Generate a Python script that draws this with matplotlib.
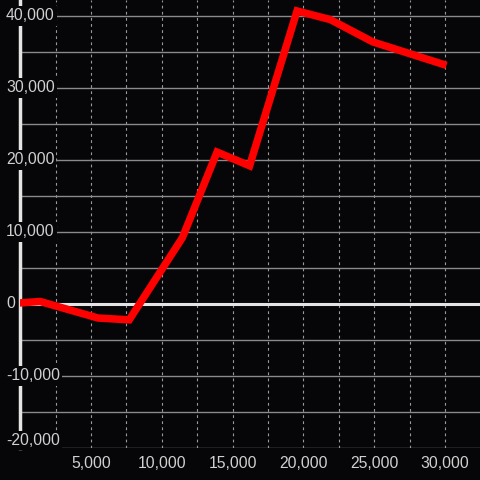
import matplotlib
matplotlib.use("Agg")
import matplotlib.pyplot as plt
from matplotlib.ticker import FuncFormatter, MultipleLocator

# datos
xs = [0, 1400, 5500, 7700, 11450, 13900, 16200, 19550, 21900, 24900, 29850]
ys = [150, 350, -1950, -2200, 9200, 21100, 19200, 40700, 39500, 36400, 33300]

x_ticks = [5000, 10000, 15000, 20000, 25000, 30000]
y_ticks = [-20000, -10000, 0, 10000, 20000, 30000, 40000]

bg = "#060608"
plt.rcParams["font.family"] = ["Liberation Sans", "DejaVu Sans"]

fig = plt.figure(figsize=(4.8, 4.8), dpi=100, facecolor=bg)
ax = fig.add_axes([20.2 / 480, 32 / 480, 1 - 20.2 / 480, 1 - 32 / 480])
ax.set_facecolor(bg)

ax.set_xlim(0, 32470)
ax.set_ylim(-20000, 42220)

# rejilla
ax.set_xticks(x_ticks)
ax.set_xticks(list(range(2500, 32500, 5000)), minor=True)
ax.set_yticks(y_ticks)
ax.yaxis.set_minor_locator(MultipleLocator(5000))
ax.grid(which="both", axis="x", color="#9a9a9a", lw=0.8, ls=(0, (2.5, 3)))
ax.grid(which="both", axis="y", color="#8a8a8a", lw=1.0, ls="-")
ax.set_axisbelow(True)

ax.axhline(0, color="#e4e4e4", lw=2.2, zorder=2)
ax.plot(xs, ys, color="#ff0000", lw=5.4, solid_joinstyle="miter", zorder=3)

for s in ["top", "right", "bottom"]:
    ax.spines[s].set_visible(False)
ax.spines["left"].set_color("#e4e4e4")
ax.spines["left"].set_linewidth(2.5)

fmt = FuncFormatter(lambda v, p: "{:,.0f}".format(v))
ax.xaxis.set_major_formatter(fmt)
ax.tick_params(which="both", length=0)
ax.tick_params(axis="x", colors="#d0d0d0", labelsize=11.3, pad=6)
ax.tick_params(axis="y", labelleft=False)

# etiquetas del eje y con fondo, encima del eje
for v in y_ticks:
    ax.text(-0.031, v, fmt(v), transform=ax.get_yaxis_transform(),
            ha="left", va="bottom" if v == y_ticks[0] else "center",
            color="#d0d0d0", fontsize=11.3, zorder=5, clip_on=False,
            bbox=dict(facecolor=bg, edgecolor="none", pad=1.5))

fig.savefig("out.png", facecolor=bg)
